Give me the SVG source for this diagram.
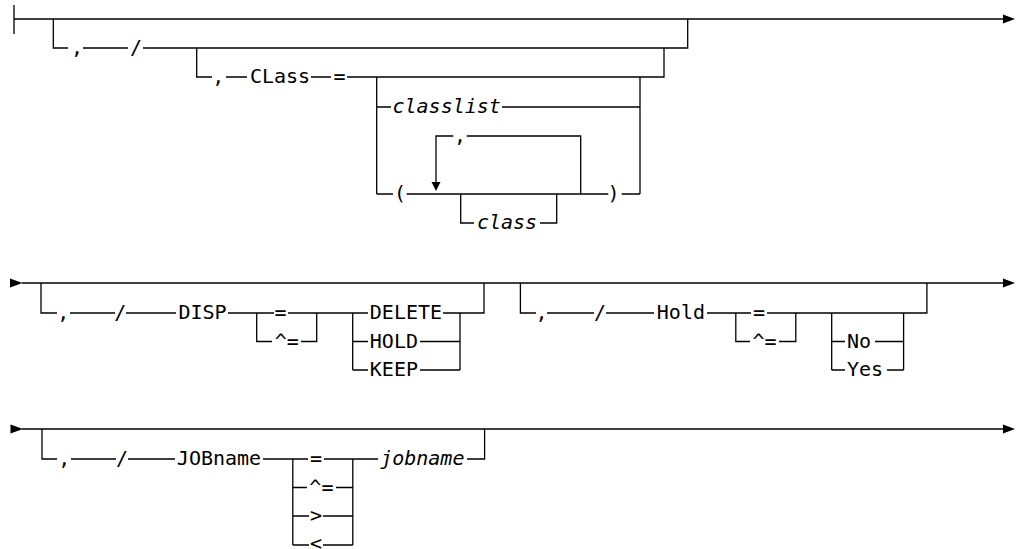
<svg xmlns="http://www.w3.org/2000/svg" width="1017" height="549" viewBox="0 0 1017 549">
<style>
.ln{fill:none;stroke:#000;stroke-width:1.3}
.ah{fill:#000;stroke:none}
text{font-family:"DejaVu Sans Mono","Liberation Mono",monospace;font-size:20px;fill:#000}
.m{text-anchor:middle}
.i{font-style:italic}
</style>
<rect width="1017" height="549" fill="#fff"/>
<g id="connectors">
<path class="ln" d="M14,5V34M14,19H1003"/>
<polygon class="ah" points="1003,14.5 1003,23.5 1015,19"/>
<path class="ln" d="M53.3,19V48H68M83,48H128M143,48H687.7V19"/>
<path class="ln" d="M196.7,48V77H212M226,77H247M311,77H331M347,77H664V48"/>
<path class="ln" d="M376.7,77V194M376.7,107H391M502,107H640M640,77V194"/>
<path class="ln" d="M376.7,194H393M406.7,194H608.3M621.7,194H640"/>
<path class="ln" d="M580.7,194V136H466.7M453.3,136H436V182"/>
<polygon class="ah" points="431.5,182 440.5,182 436,191"/>
<path class="ln" d="M460.7,194V223H474M540,223H556.7V194"/>
<polygon class="ah" points="10,278.5 10,287.5 22.5,283"/>
<path class="ln" d="M22,283H1003"/>
<polygon class="ah" points="1003,278.5 1003,287.5 1015,283"/>
<path class="ln" d="M41,283V313H57M70,313H115M126,313H176M228,313H274M288,313H368M443,313H484V283"/>
<path class="ln" d="M256.7,313V341.5H272M301,341.5H316.7V313"/>
<path class="ln" d="M352.7,313V370M352.7,341.5H368M420,341.5H460M352.7,370H368M420,370H460M460,313V370"/>
<path class="ln" d="M520.4,283V313H536M547,313H594M606,313H654M707,313H751M767,313H926.9V283"/>
<path class="ln" d="M735.8,313V341.5H750M779,341.5H795.8V313"/>
<path class="ln" d="M831.7,313V370M831.7,341.5H845M875,341.5H903.6M831.7,370H845M887,370H903.6M903.6,313V370"/>
<polygon class="ah" points="10.5,424.5 10.5,433.5 23,429"/>
<path class="ln" d="M22,429H1003"/>
<polygon class="ah" points="1003,424.5 1003,433.5 1015,429"/>
<path class="ln" d="M42,429V459H57M71,459H116M128,459H175M263,459H308M324,459H378M467,459H484.6V429"/>
<path class="ln" d="M292.8,459V545M292.8,487.5H307M336,487.5H352.8M292.8,516H309M323,516H352.8M292.8,545H309M323,545H352.8M352.8,459V545"/>
</g>
<g id="n-comma1"><text class="m" x="77" y="54">,</text></g>
<g id="n-slash1"><text class="m" x="136" y="54">/</text></g>
<g id="n-comma2"><text class="m" x="218.3" y="83">,</text></g>
<g id="n-class-kw"><text class="m" x="280" y="83">CLass</text></g>
<g id="n-eq1"><text class="m" x="339.5" y="83">=</text></g>
<g id="n-classlist"><text class="m i" x="446.7" y="113">classlist</text></g>
<g id="n-lparen"><text class="m" x="400" y="200">(</text></g>
<g id="n-rparen"><text class="m" x="613.5" y="200">)</text></g>
<g id="n-comma-loop"><text class="m" x="460" y="142">,</text></g>
<g id="n-class"><text class="m i" x="507" y="229">class</text></g>
<g id="n-comma3"><text class="m" x="63.3" y="319">,</text></g>
<g id="n-slash2"><text class="m" x="120.3" y="319">/</text></g>
<g id="n-disp"><text class="m" x="202.5" y="319">DISP</text></g>
<g id="n-eq2"><text class="m" x="280.5" y="319">=</text></g>
<g id="n-ne2"><text class="m" x="286.7" y="347.5">^=</text></g>
<g id="n-delete"><text x="369.8" y="319">DELETE</text></g>
<g id="n-hold-opt"><text x="369.8" y="347.5">HOLD</text></g>
<g id="n-keep"><text x="369.8" y="376">KEEP</text></g>
<g id="n-comma4"><text class="m" x="541.6" y="319">,</text></g>
<g id="n-slash3"><text class="m" x="600" y="319">/</text></g>
<g id="n-hold"><text class="m" x="680.9" y="319">Hold</text></g>
<g id="n-eq3"><text class="m" x="759" y="319">=</text></g>
<g id="n-ne3"><text class="m" x="764.6" y="347.5">^=</text></g>
<g id="n-no"><text x="847" y="347.5">No</text></g>
<g id="n-yes"><text x="847" y="376">Yes</text></g>
<g id="n-comma5"><text class="m" x="64.3" y="465">,</text></g>
<g id="n-slash4"><text class="m" x="122" y="465">/</text></g>
<g id="n-jobname-kw"><text class="m" x="219" y="465">JOBname</text></g>
<g id="n-eq4"><text class="m" x="316" y="465">=</text></g>
<g id="n-ne4"><text class="m" x="321.4" y="493.5">^=</text></g>
<g id="n-gt"><text class="m" x="316" y="522">&gt;</text></g>
<g id="n-lt"><text class="m" x="316" y="550">&lt;</text></g>
<g id="n-jobname"><text class="m i" x="422.3" y="465">jobname</text></g>
</svg>
